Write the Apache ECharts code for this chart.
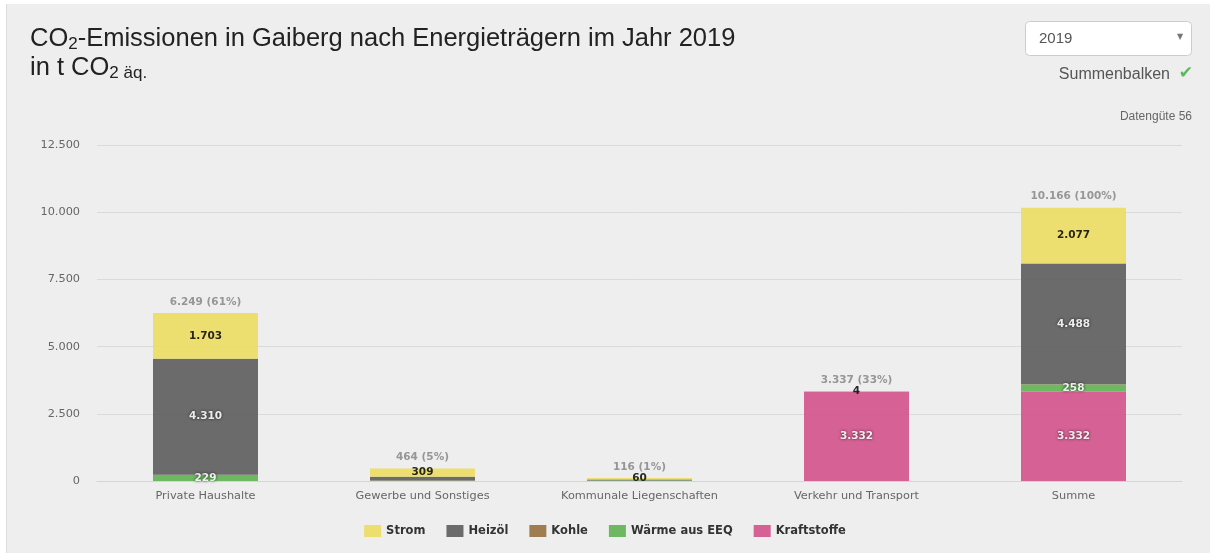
<!DOCTYPE html>
<html>
<head>
<meta charset="utf-8">
<script src="https://cdn.jsdelivr.net/npm/echarts@6/dist/echarts.min.js"></script>
<style>
html,body{margin:0;padding:0;background:#ffffff;}
#wrap{position:absolute;left:6px;top:4px;width:1204px;height:549px;background:#eeeeee;border-left:1px solid #dddddd;}
#chart{position:absolute;left:-7px;top:-4px;width:1210px;height:553px;}
</style>
</head>
<body>
<div id="wrap"><div id="chart"></div></div>
<script>
const categories = ['Private Haushalte', 'Gewerbe und Sonstiges', 'Kommunale Liegenschaften', 'Verkehr und Transport', 'Summe'];
const seriesNames = ['Strom', 'Heizöl', 'Kohle', 'Wärme aus EEQ', 'Kraftstoffe'];
const strom       = [1703, 309, 60, 4.4, 2077];
const heizoel     = [4310, 140, 38, 0, 4488];
const kohle       = [7, 4, 0, 0, 11];
const waerme      = [229, 11, 18, 0, 258];
const kraftstoffe = [0, 0, 0, 3332.4, 3332];
const yTicks = [0, 2500, 5000, 7500, 10000, 12500];

const seriesValues = [strom, heizoel, kohle, waerme, kraftstoffe];
const colors = ['rgb(235,220,96)', 'rgb(92,92,92)', 'rgb(151,112,62)', 'rgb(94,177,80)', 'rgb(211,81,137)'];
const lightSeries = [true, false, false, false, false];

function fmt(v) {
  return Math.round(v).toString().replace(/\B(?=(\d{3})+(?!\d))/g, '.');
}
const totals = categories.map((c, i) => seriesValues.reduce((s, arr) => s + arr[i], 0));
const grand = totals[totals.length - 1];

const chart = echarts.init(document.getElementById('chart'), null, {renderer: 'canvas'});

const barSeries = [];
for (let k = seriesNames.length - 1; k >= 0; k--) {
  const light = lightSeries[k];
  barSeries.push({
    name: seriesNames[k],
    type: 'bar',
    stack: 'total',
    barWidth: 105,
    data: seriesValues[k],
    itemStyle: {color: colors[k], opacity: 0.9},
    emphasis: {disabled: true},
    label: {
      show: true,
      position: 'inside',
      fontFamily: 'DejaVu Sans',
      fontSize: 10.5,
      fontWeight: 'bold',
      color: light ? '#111' : '#fff',
      textShadowColor: light ? 'transparent' : 'rgba(0,0,0,0.85)',
      textShadowBlur: light ? 0 : 3,
      formatter: function (p) {
        if (p.value <= 0) return '';
        if (k === 0 || p.value >= 200) return fmt(p.value);
        return '';
      }
    },
    z: 2
  });
}

barSeries.push({
  name: 'Gesamt',
  type: 'scatter',
  data: totals,
  symbol: 'rect',
  symbolSize: 1,
  itemStyle: {color: 'rgba(0,0,0,0)'},
  emphasis: {disabled: true},
  label: {
    show: true,
    position: 'top',
    distance: 5,
    fontFamily: 'DejaVu Sans',
    fontSize: 10.5,
    fontWeight: 'bold',
    color: '#808080',
    formatter: function (p) {
      return fmt(p.value) + ' (' + Math.round(p.value / grand * 100) + '%)';
    }
  },
  z: 5
});

const option = {
  animation: false,
  backgroundColor: 'transparent',
  title: {
    text: '{a|CO}{s|2}{a|-Emissionen in Gaiberg nach Energieträgern im Jahr 2019}\n{a|in t CO}{s|2 äq.}',
    left: 30,
    top: 24,
    padding: 0,
    textStyle: {
      fontWeight: 'normal',
      rich: {
        a: {fontFamily: 'Liberation Sans', fontSize: 25.5, fontWeight: 'normal', color: '#222', lineHeight: 29},
        s: {fontFamily: 'Liberation Sans', fontSize: 17, fontWeight: 'normal', color: '#222', lineHeight: 29, padding: [12, 0, 0, 0]}
      }
    }
  },
  legend: {
    data: seriesNames,
    bottom: 11,
    left: 'center',
    itemWidth: 17,
    itemHeight: 12,
    itemGap: 21,
    icon: 'rect',
    selectedMode: false,
    textStyle: {fontFamily: 'DejaVu Sans', fontSize: 11.5, fontWeight: 'bold', color: '#333'}
  },
  grid: {left: 97, right: 28, top: 145, bottom: 72, containLabel: false},
  xAxis: {
    type: 'category',
    data: categories,
    axisLine: {lineStyle: {color: '#ccd6eb'}},
    axisTick: {alignWithLabel: true, length: 9, lineStyle: {color: '#ccd6eb'}},
    axisLabel: {fontFamily: 'DejaVu Sans', fontSize: 11.3, color: '#666', margin: 10}
  },
  yAxis: {
    type: 'value',
    min: yTicks[0],
    max: yTicks[yTicks.length - 1],
    interval: yTicks[1] - yTicks[0],
    axisLine: {show: false},
    axisTick: {show: false},
    splitLine: {lineStyle: {color: '#dadada'}},
    axisLabel: {fontFamily: 'DejaVu Sans', fontSize: 11.3, color: '#666', margin: 17, formatter: fmt}
  },
  graphic: [
    {type: 'rect', left: 1025, top: 21, shape: {width: 166, height: 34, r: 4},
     style: {fill: '#ffffff', stroke: '#cccccc', lineWidth: 1}, silent: true},
    {type: 'text', left: 1039, top: 31, style: {text: '2019', font: '15px "Liberation Sans"', fill: '#555'}, silent: true},
    {type: 'text', left: 1177, top: 33, style: {text: '▼', font: '8px "DejaVu Sans"', fill: '#777'}, silent: true},
    {type: 'text', right: 40, top: 67, style: {text: 'Summenbalken', font: '16px "Liberation Sans"', fill: '#555'}, silent: true},
    {type: 'text', right: 17, top: 65, style: {text: '✔', font: 'bold 17px "DejaVu Sans"', fill: '#5cb85c'}, silent: true},
    {type: 'text', right: 18, top: 111, style: {text: 'Datengüte 56', font: '12px "Liberation Sans"', fill: '#666'}, silent: true}
  ],
  series: barSeries
};
chart.setOption(option);
</script>
</body>
</html>
